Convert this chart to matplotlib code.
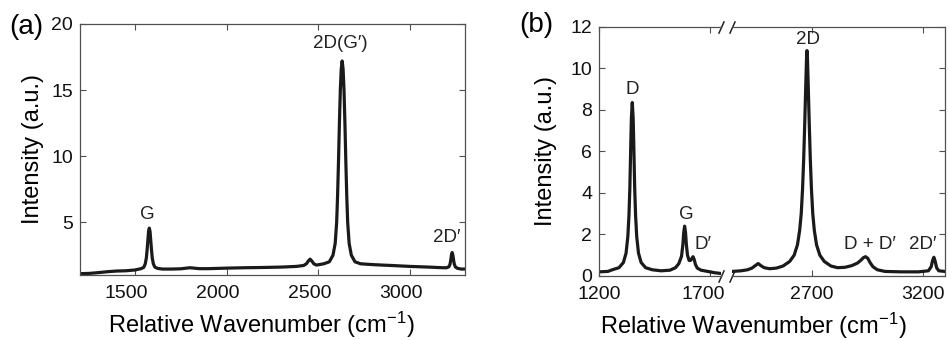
import matplotlib
matplotlib.use('Agg')
import matplotlib.pyplot as plt
from matplotlib.transforms import ScaledTranslation

plt.rcParams['font.family'] = ['Liberation Sans', 'DejaVu Sans']
plt.rcParams['mathtext.fontset'] = 'custom'
plt.rcParams['mathtext.rm'] = 'Liberation Sans'
plt.rcParams['mathtext.it'] = 'Liberation Sans:italic'
plt.rcParams['mathtext.bf'] = 'Liberation Sans:bold'

# ---------------- data: panel (a) ----------------
a_x = [1200, 1250, 1300, 1350, 1400, 1450, 1500, 1533, 1548, 1556, 1562, 1566, 1570, 1574,
       1578, 1582, 1586, 1590, 1594, 1600, 1608, 1623, 1650, 1700, 1750, 1800, 1850, 1900,
       2000, 2100, 2200, 2300, 2380, 2420, 2435, 2445, 2455, 2465, 2475, 2490, 2530, 2560,
       2580, 2592, 2600, 2605, 2610, 2615, 2620, 2625, 2630, 2635, 2640, 2645, 2650, 2655,
       2660, 2668, 2680, 2700, 2730, 2780, 2850, 2900, 3000, 3100, 3180, 3200, 3212, 3218,
       3222, 3226, 3230, 3234, 3238, 3242, 3248, 3260, 3280, 3300]
a_y = [1.10, 1.12, 1.18, 1.25, 1.30, 1.32, 1.38, 1.48, 1.58, 1.85, 2.30, 2.90, 3.60, 4.30,
       4.55, 4.30, 3.60, 2.90, 2.30, 1.85, 1.60, 1.50, 1.45, 1.45, 1.47, 1.55, 1.48, 1.48,
       1.52, 1.55, 1.57, 1.60, 1.65, 1.72, 1.85, 2.05, 2.20, 2.05, 1.85, 1.75, 1.85, 2.00,
       2.50, 3.40, 5.00, 7.00, 9.60, 12.5, 15.0, 16.6, 17.2, 16.6, 15.0, 12.5, 9.60, 7.00,
       5.00, 3.40, 2.50, 2.00, 1.85, 1.80, 1.75, 1.72, 1.65, 1.60, 1.55, 1.55, 1.62, 1.80,
       2.10, 2.50, 2.70, 2.50, 2.10, 1.80, 1.60, 1.50, 1.45, 1.45]
a_xticks = [1500, 2000, 2500, 3000]
a_yticks = [5, 10, 15, 20]
a_labels = ['G', '2D(G\u2032)', '2D\u2032']
a_label_x = [1569, 2618, 3202]
a_label_y = [5.6, 18.5, 3.83]

# ---------------- data: panel (b) ----------------
bl_x = [1200, 1240, 1260, 1290, 1310, 1322, 1330, 1335, 1339, 1343, 1346, 1350, 1354, 1357,
        1361, 1365, 1370, 1378, 1390, 1410, 1440, 1480, 1520, 1545, 1560, 1572, 1578, 1582,
        1586, 1590, 1594, 1599, 1606, 1613, 1619, 1624, 1629, 1635, 1643, 1660, 1690, 1720,
        1750]
bl_y = [0.20, 0.22, 0.30, 0.40, 0.65, 1.10, 1.90, 2.90, 4.20, 6.20, 7.60, 8.35, 7.60, 6.20,
        4.20, 2.90, 1.90, 1.10, 0.65, 0.40, 0.30, 0.25, 0.28, 0.40, 0.60, 0.95, 1.50, 2.10,
        2.40, 2.10, 1.50, 1.00, 0.75, 0.75, 0.85, 0.93, 0.80, 0.55, 0.38, 0.28, 0.22, 0.16,
        0.12]
br_x = [2340, 2380, 2410, 2430, 2445, 2458, 2470, 2485, 2510, 2540, 2570, 2600, 2620, 2635,
        2645, 2652, 2658, 2663, 2668, 2672, 2676, 2678, 2680, 2684, 2688, 2693, 2698, 2704,
        2711, 2721, 2736, 2756, 2786, 2816, 2850, 2880, 2905, 2920, 2932, 2942, 2952, 2962,
        2975, 2995, 3030, 3100, 3180, 3225, 3238, 3244, 3250, 3256, 3262, 3272, 3300]
br_y = [0.22, 0.25, 0.30, 0.38, 0.50, 0.60, 0.50, 0.40, 0.35, 0.38, 0.48, 0.70, 1.00, 1.50,
        2.20, 3.00, 4.20, 5.60, 7.40, 9.00, 10.5, 10.85, 10.5, 9.00, 7.40, 5.60, 4.20, 3.00,
        2.20, 1.50, 1.00, 0.70, 0.48, 0.40, 0.42, 0.50, 0.62, 0.75, 0.88, 0.93, 0.85, 0.65,
        0.45, 0.30, 0.22, 0.20, 0.20, 0.25, 0.45, 0.75, 0.90, 0.70, 0.40, 0.25, 0.22]
bl_xticks = [1200, 1700]
br_xticks = [2700, 3200]
b_yticks = [0, 2, 4, 6, 8, 10, 12]
bl_labels = ['D', 'G', 'D\u2032']
bl_label_x = [1351, 1595, 1670]
bl_label_y = [9.0, 2.96, 1.53]
br_labels = ['2D', 'D + D\u2032', '2D\u2032']
br_label_x = [2684, 2962, 3198]
br_label_y = [11.36, 1.53, 1.53]

# ---------------- styling ----------------
LINE = '#1a1a1a'
SPINE = '#505050'
TICK_FS = 14
LAB_FS = 17
PEAK_FS = 13.5

W, H = 949, 340
fig = plt.figure(figsize=(W / 100, H / 100), dpi=100)


def rect(l, t, r, b):
    return [l / W, 1 - b / H, (r - l) / W, (b - t) / H]


def style(ax):
    for s in ax.spines.values():
        s.set_color(SPINE)
        s.set_linewidth(0.9)
    ax.tick_params(direction='in', length=4, width=0.8, color=SPINE,
                   labelsize=TICK_FS, pad=5, labelcolor='#111111')
    ax.tick_params(axis='x', pad=7.5)


def shift_labels(labels, dx_px):
    off = ScaledTranslation(dx_px / 100, 0, fig.dpi_scale_trans)
    for lab in labels:
        lab.set_transform(lab.get_transform() + off)


# ----- panel (a)
axa = fig.add_axes(rect(80, 24, 465, 275))
axa.plot(a_x, a_y, color=LINE, lw=2.3, solid_joinstyle='round')
axa.set_xlim(1200, 3300)
axa.set_ylim(1, 20)
axa.set_xticks(a_xticks)
axa.set_yticks(a_yticks)
style(axa)
axa.tick_params(top=True, right=True)
for t, x, y in zip(a_labels, a_label_x, a_label_y):
    axa.text(x, y, t, ha='center', va='center', fontsize=PEAK_FS, color='#222222')
axa.set_ylabel('Intensity (a.u.)', fontsize=LAB_FS)
axa.yaxis.set_label_coords(-0.094, 0.5)

# ----- panel (b)
bL = fig.add_axes(rect(599, 26.7, 721, 276))
bR = fig.add_axes(rect(732, 26.7, 945, 276))
bL.plot(bl_x, bl_y, color=LINE, lw=2.3, solid_joinstyle='round')
bR.plot(br_x, br_y, color=LINE, lw=2.3, solid_joinstyle='round')
bL.set_xlim(1200, 1750)
bR.set_xlim(2340, 3300)
for ax in (bL, bR):
    ax.set_ylim(0, 12)
    ax.set_yticks(b_yticks)
    style(ax)
bL.set_xticks(bl_xticks)
bR.set_xticks(br_xticks)
bL.spines['right'].set_visible(False)
bR.spines['left'].set_visible(False)
bL.tick_params(top=True, right=False)
bR.tick_params(top=True, left=False, labelleft=False, right=True, labelright=False)
for t, x, y in zip(bl_labels, bl_label_x, bl_label_y):
    bL.text(x, y, t, ha='center', va='center', fontsize=PEAK_FS, color='#222222')
for t, x, y in zip(br_labels, br_label_x, br_label_y):
    bR.text(x, y, t, ha='center', va='center', fontsize=PEAK_FS, color='#222222')
bL.set_ylabel('Intensity (a.u.)', fontsize=LAB_FS)
bL.yaxis.set_label_coords(-0.344, 0.5)

# small label offsets as in the reference
fig.canvas.draw()
shift_labels(axa.get_xticklabels(), -9)
shift_labels(bL.get_xticklabels()[1:], -7)
shift_labels(bL.get_yticklabels()[:1], 0)

# break marks
kw = dict(marker=[(-0.45, -1), (0.45, 1)], markersize=9, linestyle='none',
          color='#222222', mec='#222222', mew=1.1, clip_on=False)
bL.plot([1, 1], [0, 1], transform=bL.transAxes, **kw)
bR.plot([0, 0], [0, 1], transform=bR.transAxes, **kw)

# x labels and panel labels
xl = 'Relative Wavenumber (cm$^{\\mathregular{-1}}$)'
fig.text(261 / W, 1 - 325 / H, xl, ha='center', va='center', fontsize=LAB_FS)
fig.text(753 / W, 1 - 326 / H, xl, ha='center', va='center', fontsize=LAB_FS)
fig.text(9 / W, 1 - 27 / H, '(a)', ha='left', va='center', fontsize=20)
fig.text(519 / W, 1 - 25 / H, '(b)', ha='left', va='center', fontsize=20)

fig.savefig('out.png', dpi=100)
